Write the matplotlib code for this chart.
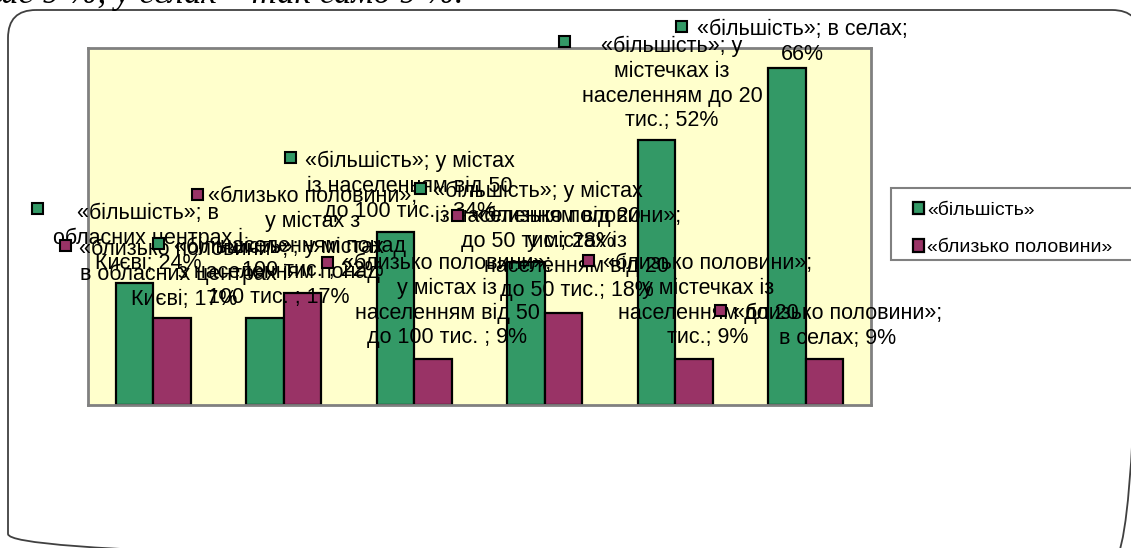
import matplotlib
matplotlib.use("Agg")
import matplotlib.pyplot as plt
from matplotlib.patches import FancyBboxPatch, Rectangle
import numpy as np
import textwrap

# ---------------- data ----------------
categories = [
    "в обласних центрах і Києві",
    "у містах з населенням понад 100 тис. ",
    "у містах із населенням від 50 до 100 тис. ",
    "у містах із населенням від 20 до 50 тис.",
    "у містечках із населенням до 20 тис.",
    "в селах",
]
series_names = ["«більшість»", "«близько половини»"]
majority = [24, 17, 34, 28, 52, 66]
about_half = [17, 22, 9, 18, 9, 9]
header_text = "ше 9 %, у селах – так само 9 %."

# ---------------- layout / style ----------------
W, H = 1131, 548
GREEN = "#339966"
MAROON = "#993366"
PLOT_BG = "#FFFFCC"
FONT = "Liberation Sans"
LABEL_SIZE = 15.5
wrap_major = [20, 21, 21, 21, 16, 21]
wrap_half = [20, 19, 19, 19, 19, 19]
# (text centre x, first-line centre y, key x, key y) in image pixels
pos_major = [(148, 212, 37, 208), (279, 246, 158, 243), (410, 160, 290, 157),
             (538, 190, 420, 188), (672, 45, 564, 41), (802, 28, 681, 26)]
pos_half = [(184, 248, 65, 245), (313, 195, 197, 194), (447, 262, 327, 262),
            (577, 215, 457, 215), (708, 262, 588, 260), (838, 312, 720, 310)]

fig = plt.figure(figsize=(W / 100, H / 100), dpi=100)
fig.patch.set_facecolor("white")

# plot area
px0, px1, py0, py1 = 88, 871, 48, 405
ax = fig.add_axes([px0 / W, 1 - py1 / H, (px1 - px0) / W, (py1 - py0) / H], zorder=1)
ax.set_facecolor(PLOT_BG)
for s in ax.spines.values():
    s.set_color("#808080")
    s.set_linewidth(2)
ax.set_xticks([])
ax.set_yticks([])
ax.set_xlim(-0.5, len(categories) - 0.5)
ax.set_ylim(0, 70)

x = np.arange(len(categories))
bw = 0.287
b1 = ax.bar(x - bw / 2, majority, bw, color=GREEN, edgecolor="black", linewidth=1.6,
            label=series_names[0])
b2 = ax.bar(x + bw / 2, about_half, bw, color=MAROON, edgecolor="black", linewidth=1.6,
            label=series_names[1])

# overlay in pixel coordinates
ov = fig.add_axes([0, 0, 1, 1], zorder=3)
ov.set_xlim(0, W)
ov.set_ylim(H, 0)
ov.axis("off")
ov.patch.set_alpha(0)

frame = FancyBboxPatch((8, 10), 1132, 552, boxstyle="round,pad=0,rounding_size=28",
                       facecolor="none", edgecolor="#404040", linewidth=1.3)
ov.add_patch(frame)

ov.text(-8, 3, header_text, fontsize=25, family="Liberation Serif", style="italic",
        va="baseline", ha="left", color="black")


def put_label(txt, pos, color):
    cx, cy, kx, ky = pos
    ov.text(cx, cy - 9, txt, ha="center", va="top", multialignment="center",
            fontsize=LABEL_SIZE, family=FONT, linespacing=1.23, color="black", zorder=5)
    ov.add_patch(Rectangle((kx - 5.5, ky - 5.5), 11, 11, facecolor=color,
                           edgecolor="black", linewidth=1.5, zorder=5))


for i, cat in enumerate(categories):
    t1 = "\n".join(textwrap.wrap(f"{series_names[0]}; {cat}; {majority[i]}%", wrap_major[i]))
    put_label(t1, pos_major[i], GREEN)
    t2 = "\n".join(textwrap.wrap(f"{series_names[1]}; {cat}; {about_half[i]}%", wrap_half[i]))
    put_label(t2, pos_half[i], MAROON)

# legend frame and entries
ov.add_patch(Rectangle((891, 188), 260, 72, facecolor="white", edgecolor="#808080",
                       linewidth=1.5, zorder=6))
leg = fig.legend(handles=[b1, b2], labels=series_names, loc="upper left",
                 bbox_to_anchor=(902 / W, 1 - 191 / H), borderaxespad=0,
                 frameon=False, handlelength=0.6, handleheight=0.6,
                 handletextpad=0.15, borderpad=0.55, labelspacing=1.06,
                 prop={"family": FONT, "size": 14})
leg.set_zorder(10)

fig.savefig("out.png", dpi=100)
